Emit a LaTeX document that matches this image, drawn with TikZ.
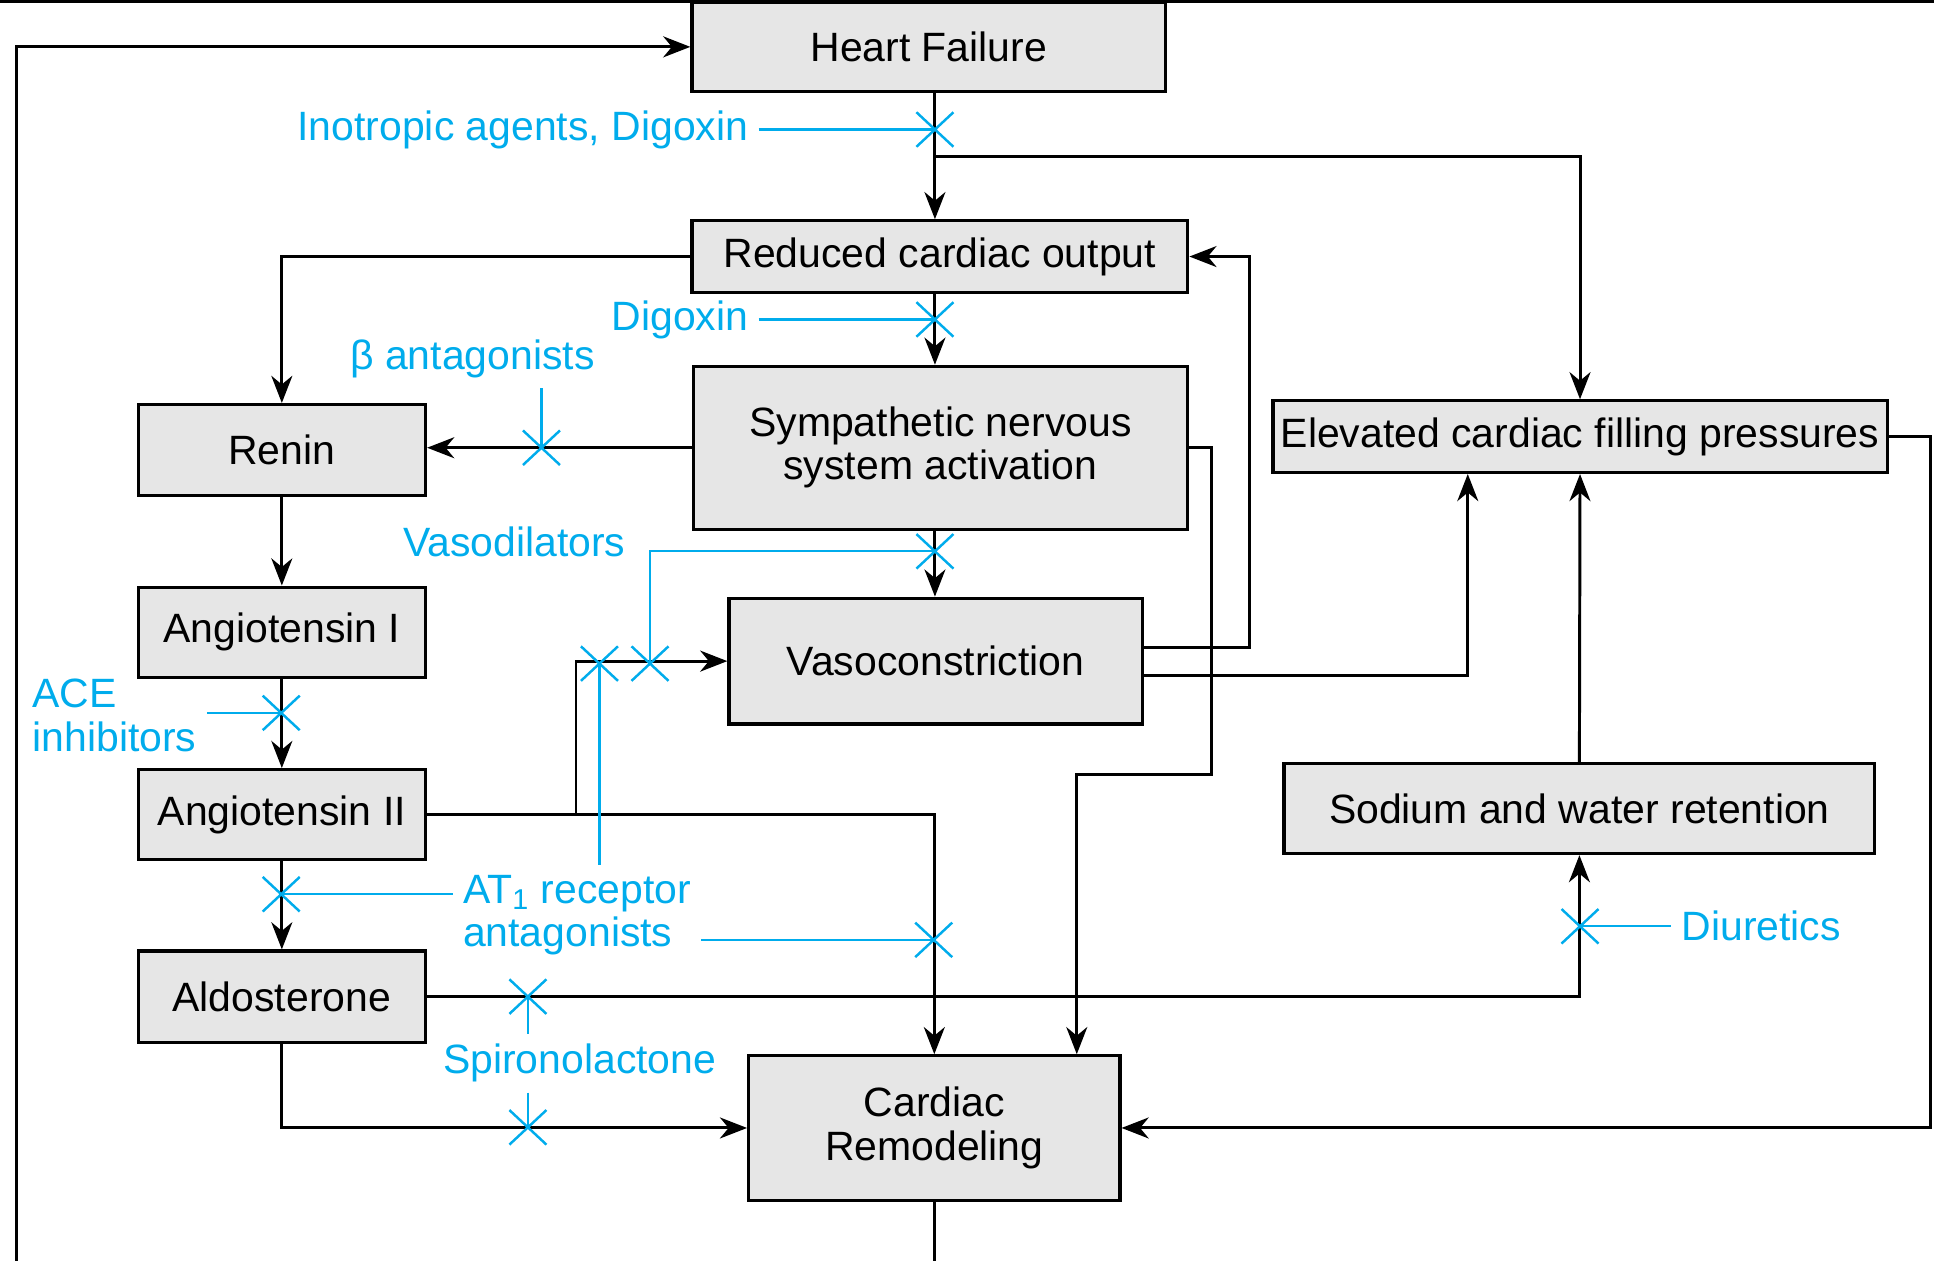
\documentclass[tikz,border=0pt]{standalone}
\usepackage{fontspec}
\setmainfont{Liberation Sans}
\usetikzlibrary{arrows.meta,shapes.misc}
\definecolor{drugblue}{RGB}{0,172,236}
\definecolor{boxgray}{RGB}{230,230,230}

\begin{document}
\begin{tikzpicture}[
    x=0.5pt, y=-0.5pt,
    every node/.style={font=\fontsize{16.6}{17.5}\selectfont},
    box/.style={draw, fill=boxgray, line width=1.3pt, inner sep=2pt, align=center},
    link/.style={draw, line width=1.2pt, -{Stealth[length=11pt,width=8.5pt,inset=3.5pt]}},
    plain/.style={draw, line width=1.2pt},
    drug/.style={draw=drugblue, line width=0.9pt},
    drugtext/.style={text=drugblue, inner sep=4pt, align=left},
    block/.style={cross out, draw=drugblue, line width=1pt, minimum width=14pt, minimum height=13pt, inner sep=0pt},
  ]
  \useasboundingbox (0,0) rectangle (1568,1022);
  \draw[line width=1.2pt] (0,1) -- (1568,1);

  % boxes
  \node[box, minimum width=192pt, minimum height=36pt] (hf) at (753,38) {Heart Failure};
  \node[box, minimum width=201pt, minimum height=29pt] (rco) at (762,208) {Reduced cardiac output};
  \node[box, minimum width=116.5pt, minimum height=37pt] (renin) at (228.5,365) {Renin};
  \node[box, minimum width=200.5pt, minimum height=66pt] (sns) at (762.5,363) {Sympathetic nervous\\system activation};
  \node[box, minimum width=249pt, minimum height=29pt] (ecfp) at (1281,354) {Elevated cardiac filling pressures};
  \node[box, minimum width=116.5pt, minimum height=36.5pt] (ang1) at (228.5,512.5) {Angiotensin I};
  \node[box, minimum width=167.5pt, minimum height=51pt] (vaso) at (758.5,536) {Vasoconstriction};
  \node[box, minimum width=116.5pt, minimum height=36.5pt] (ang2) at (228.5,660.5) {Angiotensin II};
  \node[box, minimum width=239.5pt, minimum height=36.5pt] (swr) at (1280.5,655.5) {Sodium and water retention};
  \node[box, minimum width=116.5pt, minimum height=37pt] (aldo) at (228.5,808) {Aldosterone};
  \node[box, minimum width=150.5pt, minimum height=58.5pt] (cr) at (757.5,914.5) {Cardiac\\Remodeling};

  % bends
  \coordinate (spine) at (758,0);
  \coordinate (loopa) at (13,1022);
  \coordinate (loopb) at (757.5,1022);
  \coordinate (br) at (758,127);
  \coordinate (k1) at (982,628);
  \coordinate (k2) at (873,628);
  \coordinate (k3) at (1013,525);
  \coordinate (k4) at (1190,548);
  \coordinate (k5) at (467,660);
  \coordinate (k6) at (1565,914.5);

  \draw[link] (loopa) |- (hf.west);
  \draw[plain] (cr.south) -- (loopb);
  \draw[link] (hf.south -| spine) -- (rco.north -| spine);
  \draw[link] (br) -| (ecfp.north);
  \draw[link] (rco.west) -| (renin.north);
  \draw[link] (rco.south -| spine) -- (sns.north -| spine);
  \draw[link] (sns.west) -- (sns.west -| renin.east);
  \draw[link] (sns.south -| spine) -- (vaso.north -| spine);
  \draw[link] (sns.east) -| (k1) -- (k2) -- (k2 |- cr.north);
  \draw[link] (vaso.east |- k3) -- (k3) |- (rco.east);
  \draw[link] (vaso.east |- k4) -- (k4) -- (k4 |- ecfp.south);
  \draw[link] (renin) -- (ang1);
  \draw[link] (ang1) -- (ang2);
  \draw[link] (ang2) -- (aldo);
  \draw[link] (ang2.east) -| (cr.north);
  \draw[link] (k5) |- (vaso.west);
  \draw[link] (aldo.east) -| (swr.south);
  \draw[link] (aldo.south) |- (cr.west);
  \draw[link] (swr.north) -- (ecfp.south);
  \draw[link] (ecfp.east) -| (k6) -- (cr.east);

  % drugs
  \node[block] (xino) at (758,105) {};
  \node[block] (xdig) at (758,259) {};
  \node[block] (xbeta) at (439,363) {};
  \node[block] (xvd1) at (758,447) {};
  \node[block] (xvd2) at (527,538) {};
  \node[block] (xat3) at (486,538) {};
  \node[block] (xace) at (228,578) {};
  \node[block] (xat1) at (228,725) {};
  \node[block] (xat2) at (757,762) {};
  \node[block] (xsp1) at (428,808) {};
  \node[block] (xsp2) at (428,914) {};
  \node[block] (xdiu) at (1281,751) {};

  \node[drugtext, anchor=east] (inolbl) at (615,105) {Inotropic agents, Digoxin};
  \node[drugtext, anchor=east] (diglbl) at (615,259) {Digoxin};
  \node[drugtext] (betalbl) at (383,291) {β antagonists};
  \node[drugtext] (vdlbl) at (417,439) {Vasodilators};
  \node[drugtext, anchor=west] (acelbl) at (18,580) {ACE\\inhibitors};
  \node[drugtext, anchor=west] (at1lbl) at (367,742) {AT\textsubscript{1} receptor\\antagonists};
  \node[drugtext] (splbl) at (470,862) {Spironolactone};
  \node[drugtext, anchor=west] (diulbl) at (1355,751) {Diuretics};

  \draw[drug] (inolbl.east) -- (xino.center);
  \draw[drug] (diglbl.east) -- (xdig.center);
  \draw[drug] (xbeta |- betalbl.south) -- (xbeta.center);
  \draw[drug] (xvd1.center) -| (xvd2.center);
  \draw[drug] (acelbl.east |- xace) -- (xace.center);
  \draw[drug] (xat1.center) -- (at1lbl.west |- xat1);
  \draw[drug] (at1lbl.east |- xat2) -- (xat2.center);
  \draw[drug] (xat3.center) -- (xat3 |- at1lbl.north);
  \draw[drug] (xsp1.center) -- (xsp1 |- splbl.north);
  \draw[drug] (xsp2 |- splbl.south) -- (xsp2.center);
  \draw[drug] (xdiu.center) -- (diulbl.west);
\end{tikzpicture}
\end{document}
